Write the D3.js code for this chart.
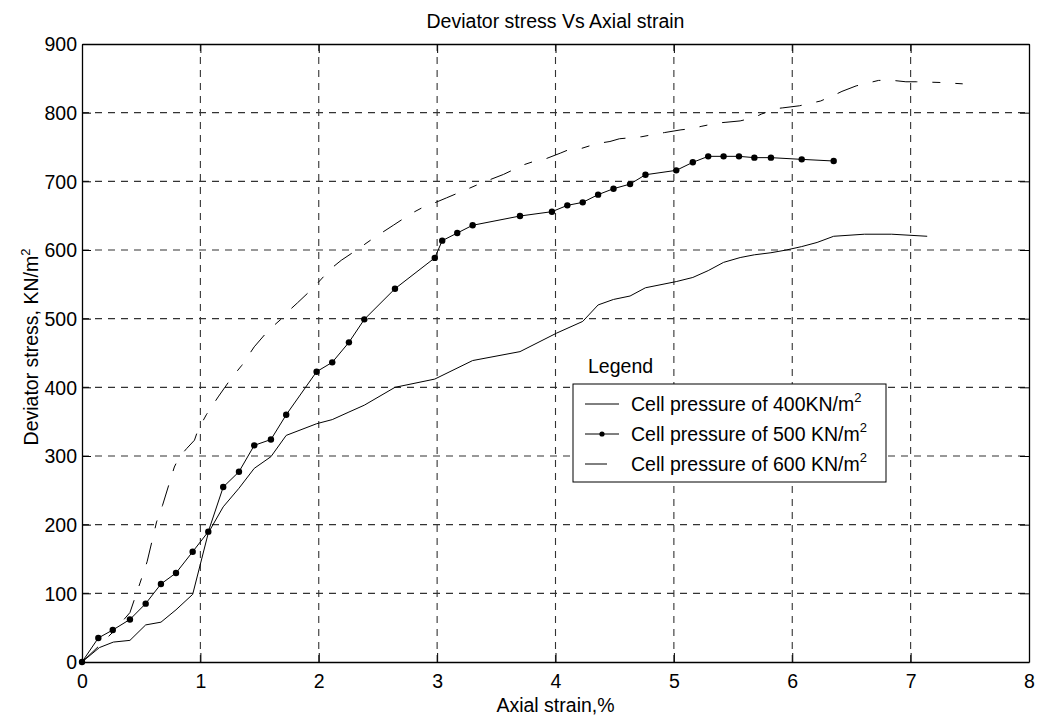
<!DOCTYPE html>
<html>
<head>
<meta charset="utf-8">
<script src="https://cdn.jsdelivr.net/npm/d3@7"></script>
<style>
  body { margin: 0; background: #fff; }
  text { font-family: "Liberation Sans", Arial, sans-serif; fill: #000; }
</style>
</head>
<body>
<div id="chart"></div>
<script>
var w = 1040;
var h = 722;

// axial strain (%) and deviator stress (kN/m2)
var strain400 = [0, 0.147, 0.265, 0.405, 0.538, 0.667, 0.794, 0.935, 1.067, 1.193, 1.326, 1.455, 1.596, 1.725, 1.982, 2.114, 2.255, 2.385, 2.644, 2.98, 3.30, 3.70, 4.01, 4.23, 4.36, 4.49, 4.63, 4.76, 5.02, 5.16, 5.29, 5.42, 5.56, 5.68, 5.82, 5.95, 6.08, 6.21, 6.35, 6.61, 6.84, 7.14];
var stress400 = [0, 21, 29, 31.5, 54, 58, 76, 98.5, 188, 226, 253, 282, 299, 330, 347, 353, 364, 374, 400, 412, 439, 452, 479, 496, 520, 528, 533, 545, 554, 560, 570, 582, 589, 593, 596, 600, 605, 611, 620, 623, 623, 620];

var strain500 = [0, 0.138, 0.26, 0.405, 0.538, 0.667, 0.794, 0.935, 1.067, 1.193, 1.326, 1.455, 1.596, 1.725, 1.982, 2.114, 2.255, 2.385, 2.644, 2.98, 3.043, 3.17, 3.30, 3.70, 3.97, 4.10, 4.23, 4.36, 4.49, 4.63, 4.76, 5.02, 5.16, 5.29, 5.42, 5.55, 5.68, 5.82, 6.08, 6.35];
var stress500 = [0, 35, 46.6, 62, 85, 113.6, 129.6, 160.6, 189.8, 254.8, 277, 315.5, 324, 360, 422.8, 436.4, 465.5, 499, 543.6, 588.5, 613.6, 624.7, 636, 649.5, 655.8, 665, 669.4, 680.6, 689.3, 696, 709.6, 716, 727.7, 736.4, 736.4, 736.4, 734.5, 734.5, 732, 729.6];

var strain600 = [0, 0.135, 0.27, 0.405, 0.49, 0.55, 0.63, 0.68, 0.78, 0.82, 0.885, 0.95, 0.98, 1.05, 1.15, 1.26, 1.35, 1.455, 1.575, 1.68, 1.725, 1.82, 1.955, 2.05, 2.09, 2.19, 2.32, 2.46, 2.63, 2.78, 2.9, 2.97, 3.08, 3.26, 3.38, 3.56, 3.73, 3.85, 3.92, 4.04, 4.11, 4.22, 4.35, 4.46, 4.54, 4.73, 4.85, 4.92, 5.06, 5.16, 5.23, 5.37, 5.44, 5.56, 5.68, 5.74, 5.87, 5.92, 6.06, 6.24, 6.36, 6.42, 6.54, 6.73, 6.85, 6.96, 7.05, 7.24, 7.44];
var stress600 = [0, 22, 45, 72, 115, 146, 204, 228, 284, 298, 311, 323, 338, 360, 386, 413, 432, 459, 483, 499, 508, 523, 545, 563, 571, 585, 600, 617, 636, 653, 664, 668, 676, 689, 698, 710, 724, 731, 733, 741, 746, 748, 755, 758, 762, 765, 769, 771, 775, 777, 780, 785, 786, 788, 793, 798, 806, 807, 810, 817, 826, 831, 839, 847, 847, 845, 845, 844, 842];

var xTicks = [0, 1, 2, 3, 4, 5, 6, 7, 8];
var yTicks = [0, 100, 200, 300, 400, 500, 600, 700, 800, 900];
var legendLabels = ["Cell pressure of 400KN/m", "Cell pressure of 500 KN/m", "Cell pressure of 600 KN/m"];

var pL = 82, pR = 1029, pT = 44, pB = 662;
var fontSize = 19.5;

var xScale = d3.scaleLinear().domain([0, 8]).range([pL, pR]);
var yScale = d3.scaleLinear().domain([0, 900]).range([pB, pT]);

var svg = d3.select("#chart").append("svg").attr("width", w).attr("height", h);

// grid
svg.append("g")
  .selectAll("line")
  .data(xTicks.slice(1, -1))
  .enter()
  .append("line")
  .attr("x1", function (d) { return xScale(d); })
  .attr("x2", function (d) { return xScale(d); })
  .attr("y1", pT)
  .attr("y2", pB)
  .attr("stroke", "#333")
  .attr("stroke-width", 1.1)
  .attr("stroke-dasharray", "7,6");

svg.append("g")
  .selectAll("line")
  .data(yTicks.slice(1, -1))
  .enter()
  .append("line")
  .attr("x1", pL)
  .attr("x2", pR)
  .attr("y1", function (d) { return yScale(d); })
  .attr("y2", function (d) { return yScale(d); })
  .attr("stroke", "#333")
  .attr("stroke-width", 1.1)
  .attr("stroke-dasharray", "7,6");

// axes, ticks pointing inward like matlab
var tk = 9;
var xAxis = svg.append("g").attr("transform", "translate(0," + pB + ")")
  .call(d3.axisBottom(xScale).tickValues(xTicks).tickSizeInner(-tk).tickSizeOuter(0));
var xAxisTop = svg.append("g").attr("transform", "translate(0," + pT + ")")
  .call(d3.axisTop(xScale).tickValues(xTicks).tickSizeInner(-tk).tickSizeOuter(0).tickFormat(""));
var yAxis = svg.append("g").attr("transform", "translate(" + pL + ",0)")
  .call(d3.axisLeft(yScale).tickValues(yTicks).tickSizeInner(-tk).tickSizeOuter(0));
var yAxisRight = svg.append("g").attr("transform", "translate(" + pR + ",0)")
  .call(d3.axisRight(yScale).tickValues(yTicks).tickSizeInner(-tk).tickSizeOuter(0).tickFormat(""));

[xAxis, xAxisTop, yAxis, yAxisRight].forEach(function (g) {
  g.select(".domain").attr("stroke", "#000").attr("stroke-width", 1.3);
  g.selectAll(".tick line").attr("stroke", "#000");
  g.selectAll("text").attr("font-size", fontSize).attr("font-family", "Liberation Sans, Arial, sans-serif").attr("fill", "#000");
});
xAxis.selectAll("text").attr("y", 12).attr("dy", "0.71em");
yAxis.selectAll("text").attr("x", -5).attr("dy", "0.35em");

// series
var line = d3.line()
  .x(function (d) { return xScale(d[0]); })
  .y(function (d) { return yScale(d[1]); });

var d400 = d3.zip(strain400, stress400);
var d500 = d3.zip(strain500, stress500);
var d600 = d3.zip(strain600, stress600);

var dash600 = "22,15,8,15";

svg.append("path").datum(d400).attr("d", line)
  .attr("fill", "none").attr("stroke", "#000").attr("stroke-width", 1);
svg.append("path").datum(d600).attr("d", line)
  .attr("fill", "none").attr("stroke", "#000").attr("stroke-width", 1)
  .attr("stroke-dasharray", dash600);
svg.append("path").datum(d500).attr("d", line)
  .attr("fill", "none").attr("stroke", "#000").attr("stroke-width", 1);
svg.append("g")
  .selectAll("circle")
  .data(d500)
  .enter()
  .append("circle")
  .attr("cx", function (d) { return xScale(d[0]); })
  .attr("cy", function (d) { return yScale(d[1]); })
  .attr("r", 3.2)
  .attr("fill", "#000");

// title and axis labels
svg.append("text").attr("x", (pL + pR) / 2).attr("y", 28)
  .attr("text-anchor", "middle").attr("font-size", fontSize)
  .text("Deviator stress Vs Axial strain");

svg.append("text").attr("x", (pL + pR) / 2).attr("y", 712)
  .attr("text-anchor", "middle").attr("font-size", fontSize)
  .text("Axial strain,%");

var yl = svg.append("text")
  .attr("transform", "translate(38," + ((pT + pB) / 2 - 6) + ") rotate(-90)")
  .attr("text-anchor", "middle").attr("font-size", fontSize);
yl.append("tspan").text("Deviator stress, KN/m");
yl.append("tspan").attr("font-size", 13).attr("dy", -8).text("2");

// legend
var lg = svg.append("g");
lg.append("text").attr("x", 588).attr("y", 373).attr("font-size", fontSize).text("Legend");
lg.append("rect").attr("x", 573).attr("y", 384).attr("width", 313).attr("height", 98)
  .attr("fill", "#fff").attr("stroke", "#000").attr("stroke-width", 1);

var rowY = [404, 434, 464];
legendLabels.forEach(function (lab, i) {
  var y = rowY[i];
  var ln = lg.append("line").attr("x1", 585).attr("x2", 619).attr("y1", y).attr("y2", y)
    .attr("stroke", "#000").attr("stroke-width", 1);
  if (i === 2) ln.attr("stroke-dasharray", dash600);
  if (i === 1) lg.append("circle").attr("cx", 602).attr("cy", y).attr("r", 2.6).attr("fill", "#000");
  var t = lg.append("text").attr("x", 631).attr("y", y + 7).attr("font-size", fontSize);
  t.append("tspan").text(lab);
  t.append("tspan").attr("font-size", 13).attr("dy", -9).text("2");
});
</script>
</body>
</html>
